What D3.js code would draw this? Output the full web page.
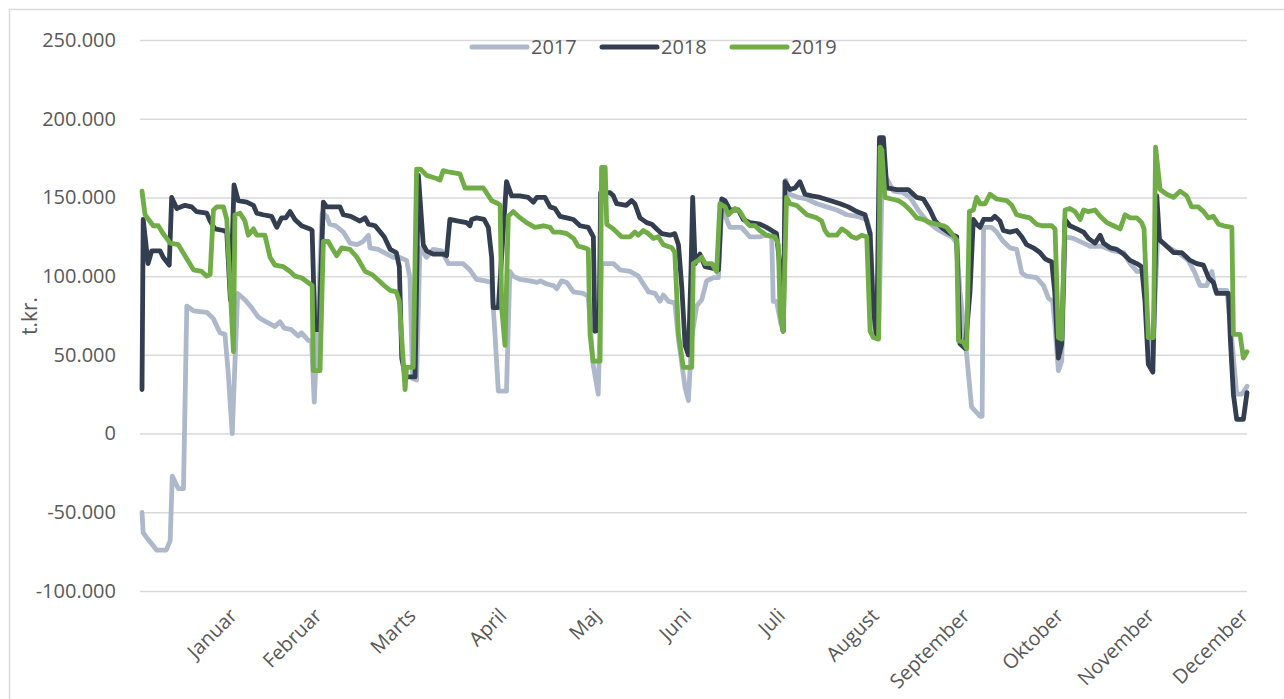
<!DOCTYPE html>
<html>
<head>
<meta charset="utf-8">
<script src="https://cdn.jsdelivr.net/npm/d3@7"></script>
<style>
  body { margin: 0; background: #fff; }
  svg text { font-family: "Open Sans", "Noto Sans", sans-serif; fill: #595959; }
</style>
</head>
<body>
<div id="display"></div>
<script>
// likviditet pr. dag, t.kr. (values in thousands, [day of year, value])

var months = ["Januar", "Februar", "Marts", "April", "Maj", "Juni",
              "Juli", "August", "September", "Oktober", "November", "December"];
var month_ends = [31, 59, 90, 120, 151, 181, 212, 243, 273, 304, 334, 365];
var y_ticks = [-100000, -50000, 0, 50000, 100000, 150000, 200000, 250000];

var s2017 = [[0,-50],[0.4,-63],[1.5,-66],[3.2,-70],[4.8,-74],[8,-74],[9.3,-68],[10,-27],[12,-35],[13.7,-35],
  [14.8,81],[17,78],[21.4,77],[23.6,73],[25,67],[25.8,64],[27.4,63],[28.5,38],[29.8,0],[31.6,89],[34,85],
  [36.2,80],[38.4,74],[40,72],[42,70],[43.9,68],[45.6,71],[47,67],[49.4,66],[51.6,62],[52.7,64],[55,59],
  [56,59],[56.9,20],[59.5,140],[61,138],[62,133],[64,132],[66.5,128],[68.7,121],[71,120],[73,122],[74.8,126],
  [75.3,118],[78,117],[80,115],[83,112],[85,112],[87.4,110],[88.5,99],[89.4,35],[90.7,34],[91.8,118],[94,112],
  [96.2,117],[99,116],[101.2,108],[106,108],[108.3,104],[110.5,98],[113.3,97],[115.5,96],[116.6,63],[117.7,27],
  [120.4,27],[121.5,103],[122.6,100],[124.8,98],[128.2,97],[130.5,96],[131.6,97],[133.7,95],[135.9,94],[137,92],
  [138.6,97],[140.3,96],[142.5,90],[145.8,89],[147.4,87],[149,44],[150.7,25],[151.8,108],[155.7,108],[157.9,104],
  [161.2,103],[164,100],[165.6,95],[167.3,90],[169.5,89],[171.1,84],[172.2,88],[173.9,84],[176,83],[177.2,60],
  [179.4,29],[180.5,21],[181.5,60],[183.2,81],[184.9,85],[186.5,97],[188.7,99],[190.4,99],[191.5,144],[193.1,136],
  [194.2,131],[198,131],[200.8,125],[204.1,125],[205.8,126],[208,125],[208.5,84],[209.6,84],[211,70],[211.8,65],
  [212.7,161],[214,152],[216.8,150],[219.6,149],[222.9,146],[226.2,144],[229.5,142],[232.8,139],[236.1,138],
  [239.4,136],[240.5,128],[242.1,63],[243.3,62],[244.5,162],[246,162],[248.2,154],[251.5,153],[253.7,150],
  [256.4,142],[259.2,135],[262.5,130],[265.3,127],[267.5,125],[269.1,121],[270.2,90],[272.4,50],[274,17],
  [276.8,11],[277.5,11],[278,131],[280.6,131],[282.3,128],[284.5,122],[286.7,118],[288.9,117],[289.5,112],
  [290.6,102],[292.2,100],[295.5,99],[297.8,94],[299.4,86],[300.8,84],[301.5,70],[302.7,40],[303.8,46],
  [304.9,125],[307.7,124],[311,121],[313.2,119],[317,119],[320.9,116],[324.2,115],[326.4,108],[328.6,103],
  [330.8,103],[332,75],[333.6,40],[335.5,125],[336.3,123],[338.5,119],[342.9,114],[345.6,110],[347.8,102],
  [349.5,94],[351.7,94],[353.4,103],[354.5,91],[358.3,91],[359.5,70],[361.6,25],[363.3,25],[365,30]];

var s2018 = [[0,28],[0.4,136],[2,108],[3.2,116],[6,116],[7,112],[9,107],[9.8,150],[11.5,143],[14.2,145],
  [16.4,144],[18,141],[21.4,140],[22.5,135],[24.1,130],[26.9,129],[28,128],[29.2,85],[30.4,158],[31.8,148],
  [34.6,147],[36.8,145],[37.9,140],[40,139],[42.8,138],[44.5,131],[46.1,137],[47.5,137],[48.9,141],[50.5,136],
  [52.7,132],[55.5,130],[56.2,129],[57.1,66],[58.5,66],[59.9,147],[61,144],[65.4,144],[66.5,139],[69,138],
  [72,135],[73.7,137],[74.8,133],[77,132],[80,125],[82,117],[84,115],[85,106],[85.8,48],[87,36],[90.2,36],
  [91.3,164],[92.9,120],[94,116],[96.2,114],[99.5,114],[100.6,113],[101.7,136],[104.5,135],[107.2,134],
  [108.3,132],[108.9,136],[110.5,137],[113,136],[114.4,131],[115.5,112],[116,80],[117.7,80],[120.4,160],
  [122.1,151],[124.8,151],[127.6,150],[129.3,147],[130.4,150],[133.1,150],[134.8,144],[136.4,143],[138.1,138],
  [140.3,137],[142.5,136],[144.7,132],[147.4,131],[149.1,125],[149.6,65],[151,66],[151.5,153],[154.6,153],
  [155.7,151],[156.8,146],[160,145],[161.7,148],[162.8,146],[164.5,137],[166.7,134],[168.4,133],[170,130],
  [171.7,127],[174.4,126],[176,127],[177.2,120],[178.3,93],[179.4,56],[180.5,50],[181.3,100],[181.9,150],
  [182.7,108],[184.3,114],[186,106],[188.7,105],[190.4,104],[191.5,149],[192.6,148],[194.2,142],[197,142],
  [198.6,136],[200.8,134],[204.1,133],[206.3,131],[208,129],[209.6,127],[210.5,110],[211.3,72],[211.8,65],
  [212.4,160],[214,155],[215.7,156],[217.3,160],[219,152],[221.2,151],[224,150],[227.3,148],[230.6,146],
  [233.3,144],[236.1,141],[238.8,139],[240.5,127],[241.5,80],[242.7,61],[243.6,188],[244.9,188],[246,156],
  [249.3,155],[253.1,155],[255.9,150],[258.1,149],[260.3,142],[262,135],[264.7,130],[266.9,127],[269.1,125],
  [270.2,57],[271.9,54],[273.5,90],[274.6,136],[275.7,133],[276.8,131],[278,136],[280.6,136],[281.7,138],
  [283.4,135],[284.5,129],[286.7,128],[288.9,129],[290.6,125],[292.2,120],[294.4,118],[296.6,115],[298.3,111],
  [300.5,109],[301.5,90],[302.2,63],[302.7,48],[303.8,57],[304.9,136],[306.5,132],[308.8,130],[311,128],
  [312.6,124],[314.8,121],[316.5,126],[317.6,121],[319.8,118],[322,117],[324.2,114],[326.4,110],[328.6,108],
  [330.2,106],[331.3,84],[332.4,44],[333.9,39],[335.2,151],[336.1,123],[338.5,119],[340.7,115],[343.4,115],
  [346.2,110],[348.4,108],[350.6,107],[352.3,99],[353.9,96],[355,89],[358.9,89],[359.5,60],[360.5,25],
  [361.6,9],[363.8,9],[365,26]];

var s2019 = [[0,154],[1,139],[3.7,132],[5.4,132],[7,127],[9.3,121],[12,120],[14.8,111],[17,104],[19.7,103],
  [21.4,100],[22.5,101],[23.6,142],[24.7,144],[26.9,144],[28,136],[30.2,52],[30.7,139],[32.4,140],[34,135],
  [35.1,126],[36.8,130],[37.9,126],[40.6,126],[42.3,112],[43.9,107],[46.7,106],[48.9,103],[50.5,100],[52.7,99],
  [55.5,95],[56.2,94],[56.6,40],[58.8,40],[59.9,122],[61.5,122],[62.7,118],[64.3,113],[66,118],[68.7,117],
  [71,112],[73.7,103],[76,101],[80,94],[82,91],[84,90],[85,84],[86.9,28],[87.4,42],[89.6,42],[90.7,168],
  [92,168],[94,164],[97.3,162],[98.4,161],[99.5,167],[101.7,166],[105,165],[106.7,156],[112.7,156],[113.8,153],
  [115.5,148],[117.7,146],[118.3,145],[118.8,80],[119.9,56],[121,138],[122.6,141],[124.3,138],[127,134],
  [129.8,131],[132.6,132],[134.8,131],[135.9,128],[138.1,128],[140.3,127],[142.5,124],[144.1,119],[146.3,118],
  [147.4,117],[148,63],[149,46],[151.3,46],[151.8,169],[153,169],[153.5,133],[155.7,130],[158.4,125],[161.2,125],
  [162.8,128],[163.9,126],[165.6,129],[167.2,127],[168.9,124],[170.5,125],[172.2,120],[175,118],[176,115],
  [177.2,63],[178.8,42],[181.6,42],[182.1,108],[183.8,110],[184.9,112],[186,108],[188.2,108],[189.8,103],
  [190.9,146],[192.6,144],[193.7,139],[195.9,143],[197.5,141],[199.7,134],[200.8,132],[202.5,132],[204.1,129],
  [206.3,126],[209.1,125],[210.2,120],[210.8,76],[211.8,65],[212.9,150],[214,146],[216.2,145],[217.9,142],
  [219.6,139],[221.2,138],[222.9,137],[224.5,135],[225.6,129],[226.7,126],[229.5,126],[231.1,130],[232.8,128],
  [234.4,125],[236.1,124],[237.7,126],[239.4,125],[240.5,65],[241.6,61],[243.3,60],[243.8,182],[244.4,180],
  [245.4,150],[247.6,149],[249.8,148],[251.5,146],[253.7,142],[255.9,137],[258.1,136],[260.3,134],[262.5,133],
  [264.7,132],[265.8,131],[267.5,127],[269.1,123],[269.7,59],[271.3,58],[272.4,54],[273.3,141],[274.6,142],
  [275.7,150],[276.8,146],[278.5,146],[280.1,152],[282.3,149],[285.6,148],[287.3,145],[288.9,139],[291.1,138],
  [293.3,137],[295.5,133],[297.2,132],[300.5,132],[301.6,130],[302.7,61],[303.8,60],[304.9,142],[306.5,143],
  [308.2,141],[309.9,136],[311,142],[312.6,141],[314.8,142],[316.5,138],[318.7,134],[320.9,132],[323.1,130],
  [324.7,139],[326.4,137],[328.6,137],[330.2,134],[331,130],[332.4,61],[334.1,61],[334.8,182],[336.3,155],
  [338.5,152],[340.7,150],[342.9,154],[345.1,151],[346.7,144],[348.9,144],[350.6,141],[352.3,137],[353.9,138],
  [355.6,133],[357.2,132],[360,131],[360.5,63],[362.7,63],[363.8,48],[365,52]];

var series = [
  {name: "2017", color: "#adb9ca", data: s2017},
  {name: "2018", color: "#333f50", data: s2018},
  {name: "2019", color: "#70ad47", data: s2019}
];

// ------ chart setup --------

var W = 1284, H = 699;
var plot = {left: 142, right: 1247, top: 40, bottom: 591};

var svg = d3.select("#display").append("svg")
  .attr("width", W).attr("height", H);

// outer frame, only left and top edge visible in the screenshot
svg.append("rect")
  .attr("x", 9.5).attr("y", 9.5)
  .attr("width", W + 20).attr("height", H + 20)
  .attr("fill", "none").attr("stroke", "#d9d9d9").attr("stroke-width", 1.5);

var x = d3.scaleLinear().domain([0, 365]).range([plot.left, plot.right]);
var y = d3.scaleLinear().domain([-100000, 250000]).range([plot.bottom, plot.top]);

var dk = d3.formatLocale({decimal: ",", thousands: ".", grouping: [3],
                          currency: ["", " kr."], minus: "-"});
var fmt = dk.format(",.0f");

// gridlines + tick labels
var yAxis = d3.axisLeft(y).tickValues(y_ticks).tickFormat(fmt)
  .tickSize(-(plot.right - plot.left + 2)).tickPadding(24);

var gy = svg.append("g")
  .attr("transform", "translate(" + (plot.left - 2) + ",0)")
  .call(yAxis);
gy.select(".domain").remove();
gy.selectAll(".tick line").attr("stroke", "#d9d9d9").attr("stroke-width", 1.5);
gy.selectAll(".tick text").style("font-size", "20px").attr("fill", "#595959");

svg.append("text")
  .attr("transform", "translate(37,316) rotate(-90)")
  .attr("text-anchor", "middle")
  .style("font-size", "21px")
  .text("t.kr.");

// month labels at month end, slanted
var xAxis = d3.axisBottom(x).tickValues(month_ends)
  .tickFormat(function(d, i) { return months[i]; }).tickSize(0);

var gx = svg.append("g")
  .attr("transform", "translate(0," + plot.bottom + ")")
  .call(xAxis);
gx.select(".domain").remove();
gx.selectAll(".tick text")
  .style("font-size", "20px").attr("fill", "#595959")
  .attr("text-anchor", "end")
  .attr("dy", null)
  .attr("y", 0)
  .attr("transform", "translate(2,26) rotate(-45)");

// the lines
var line = d3.line()
  .x(function(d) { return x(d[0]); })
  .y(function(d) { return y(d[1] * 1000); });

svg.append("g").selectAll("path")
  .data(series)
  .enter().append("path")
  .attr("d", function(d) { return line(d.data); })
  .attr("fill", "none")
  .attr("stroke", function(d) { return d.color; })
  .attr("stroke-width", 4.8)
  .attr("stroke-linejoin", "round")
  .attr("stroke-linecap", "round");

// legend
var legend = svg.append("g").attr("transform", "translate(472,47)");
var items = legend.selectAll("g")
  .data(series)
  .enter().append("g")
  .attr("transform", function(d, i) { return "translate(" + (i * 130) + ",0)"; });

items.append("line")
  .attr("x1", 0).attr("x2", 55)
  .attr("stroke", function(d) { return d.color; })
  .attr("stroke-width", 5)
  .attr("stroke-linecap", "round");

items.append("text")
  .attr("x", 59).attr("dy", "0.35em")
  .style("font-size", "20px")
  .text(function(d) { return d.name; });
</script>
</body>
</html>
